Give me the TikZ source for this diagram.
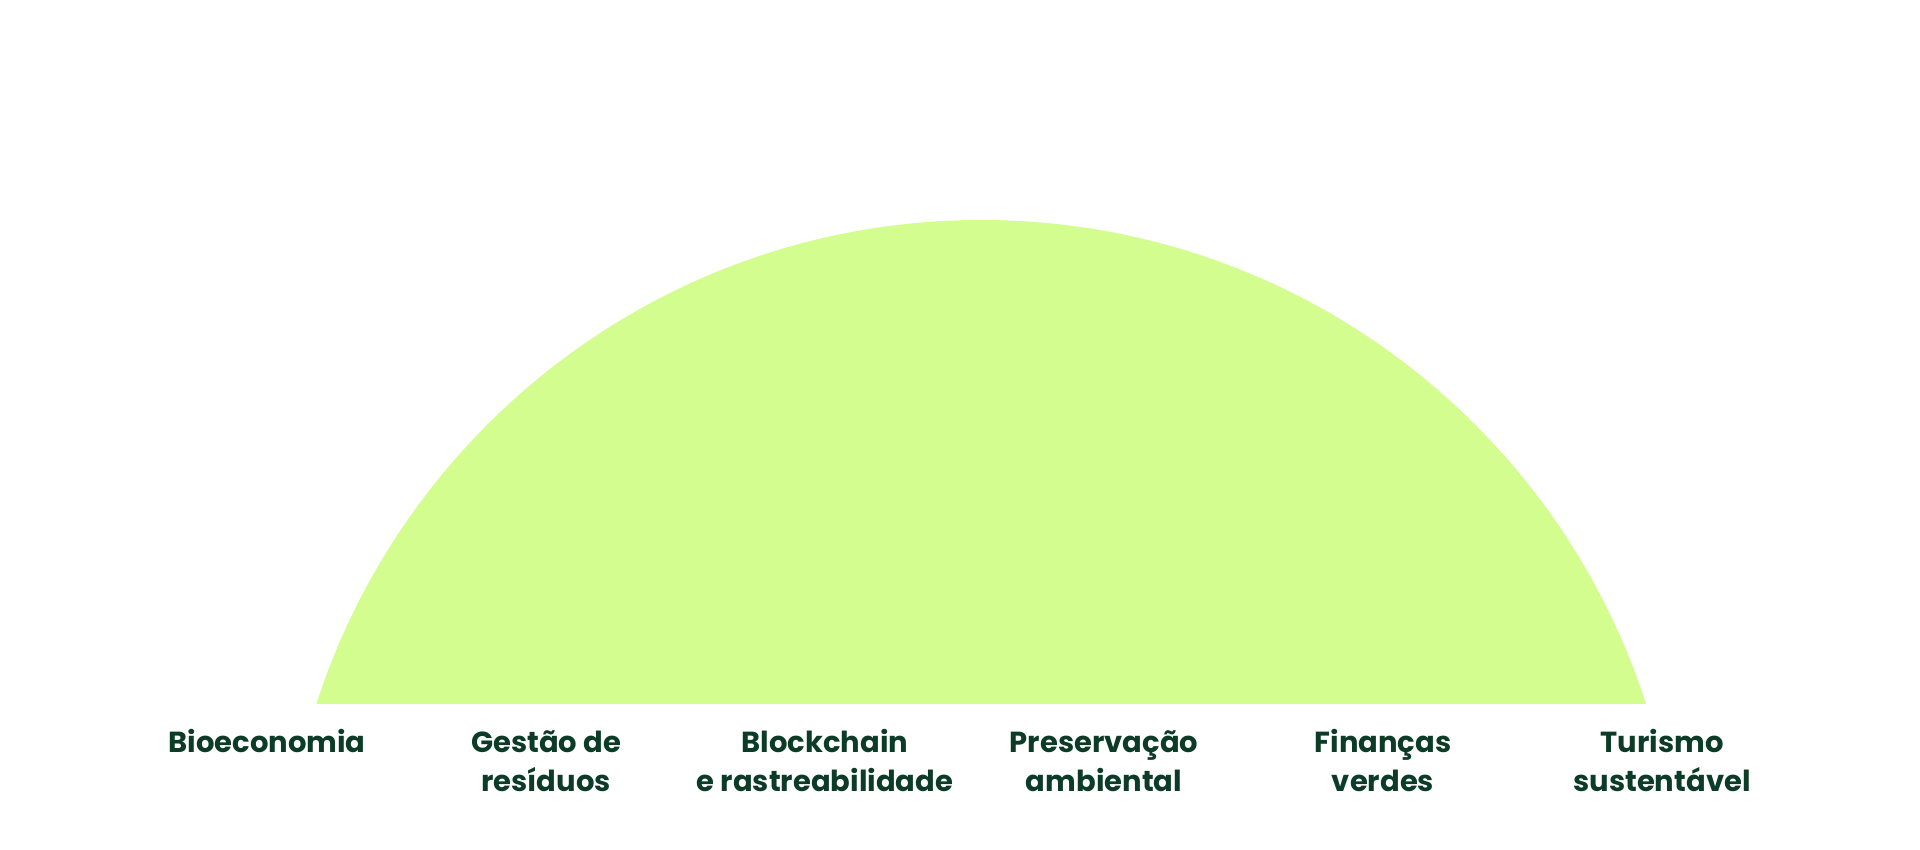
\documentclass[tikz,border=0pt]{standalone}
\usepackage{fontspec}
\setmainfont{Poppins}
\definecolor{lime}{RGB}{211,254,143}
\definecolor{darkgreen}{RGB}{12,60,40}
\tikzset{
  lbl/.style={anchor=base, align=center, text=darkgreen, inner sep=0pt,
    font=\fontsize{29}{38.5}\selectfont\bfseries},
}
\begin{document}
\begin{tikzpicture}[x=1pt,y=-1pt]
\useasboundingbox (0,0) rectangle (1920,850);
\fill[white] (0,0) rectangle (1920,850);
\begin{scope}
  \clip (0,0) rectangle (1920,703.7);
  \fill[lime] (981.2,918.3) circle (698.3);
\end{scope}
\node[lbl] (bio) at (267,752.7) {Bioeconomia};
\node[lbl] (ges) at (546,791.2) {Gestão de\\resíduos};
\node[lbl] (blo) at (825,791.2) {Blockchain\\e rastreabilidade};
\node[lbl] (pre) at (1104,791.2) {Preservação\\ambiental};
\node[lbl] (fin) at (1383,791.2) {Finanças\\verdes};
\node[lbl] (tur) at (1662,791.2) {Turismo\\sustentável};
\end{tikzpicture}
\end{document}
